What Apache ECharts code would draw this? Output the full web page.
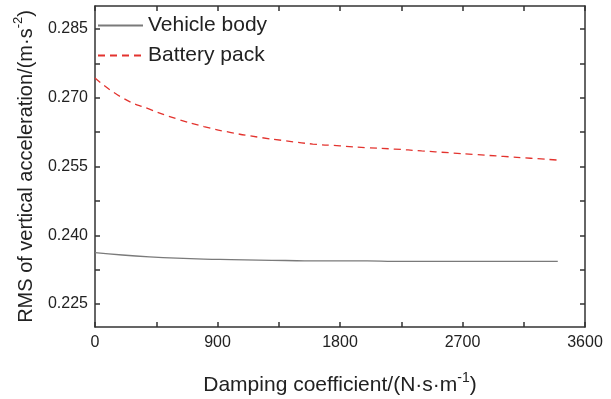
<!DOCTYPE html>
<html>
<head>
<meta charset="utf-8">
<script src="https://cdn.jsdelivr.net/npm/echarts@6/dist/echarts.min.js"></script>
<style>
  html, body { margin: 0; padding: 0; background: #fff; }
  #main { width: 611px; height: 399px; }
</style>
</head>
<body>
<div id="main"></div>
<script>
// 阻尼系数 (x)
var damping = [0, 200, 400, 600, 800, 1000, 1200, 1400, 1600, 1800, 2000, 2200, 2400, 2600, 2800, 3000, 3200, 3400];
// 车身 RMS
var vehicleBody = [0.2362, 0.2357, 0.2353, 0.2350, 0.2348, 0.2347, 0.2346, 0.2345, 0.2344, 0.2344, 0.2344, 0.2343, 0.2343, 0.2343, 0.2343, 0.2343, 0.2343, 0.2343];
// 电池包 RMS
var batteryPack = [0.2743, 0.2700, 0.2675, 0.2654, 0.2637, 0.2624, 0.2614, 0.2606, 0.2599, 0.2595, 0.2591, 0.2588, 0.2584, 0.2580, 0.2576, 0.2572, 0.2568, 0.2564];
// 刻度
var xLabels = [0, 900, 1800, 2700, 3600];
var xTicks = [0, 450, 900, 1350, 1800, 2250, 2700, 3150, 3600];
var yLabels = [0.225, 0.240, 0.255, 0.270, 0.285];
var yTicks = [0.225, 0.2325, 0.240, 0.2475, 0.255, 0.2625, 0.270, 0.2775, 0.285];

var font = 'Liberation Sans, Arial, sans-serif';
var axisColor = '#333';

function pairs(xs, ys) {
    return xs.map(function (x, i) { return [x, ys[i]]; });
}

function supRich(size) {
    return {
        n: { fontSize: size, fontFamily: font, color: '#222', verticalAlign: 'bottom', lineHeight: size + 4 },
        s: { fontSize: Math.round(size * 0.65), fontFamily: font, color: '#222', verticalAlign: 'top', lineHeight: size + 4, padding: [0, 0, 12, 0] }
    };
}

var option = {
    animation: false,
    grid: { left: 95, right: 26, top: 6, bottom: 72, outerBoundsMode: 'none', containLabel: false },
    legend: {
        left: 92,
        top: 10,
        orient: 'vertical',
        itemWidth: 45,
        itemHeight: 14,
        itemGap: 9,
        itemStyle: { opacity: 0 },
        textStyle: { fontSize: 21, fontFamily: font, color: '#222' },
        data: ['Vehicle body', 'Battery pack']
    },
    xAxis: [
        {
            type: 'value',
            min: 0,
            max: 3600,
            name: '{n|Damping coefficient/(N·s·m}{s|-1}{n|)}',
            nameLocation: 'middle',
            nameGap: 44,
            nameTextStyle: { rich: supRich(21) },
            splitLine: { show: false },
            axisLine: { onZero: false, lineStyle: { color: axisColor, width: 1.5 } },
            axisTick: { inside: true, length: 5, customValues: xTicks, lineStyle: { color: axisColor, width: 1.5 } },
            axisLabel: {
                customValues: xLabels, fontSize: 16, fontFamily: font, color: '#222', margin: 8,
                formatter: function (v) { return String(v); }
            }
        },
        {
            type: 'value',
            position: 'top',
            min: 0,
            max: 3600,
            splitLine: { show: false },
            axisLine: { onZero: false, lineStyle: { color: axisColor, width: 1.5 } },
            axisTick: { inside: true, length: 5, customValues: xTicks, lineStyle: { color: axisColor, width: 1.5 } },
            axisLabel: { show: false }
        }
    ],
    yAxis: [
        {
            type: 'value',
            min: 0.220,
            max: 0.290,
            name: '{n|RMS of vertical acceleration/(m·s}{s|-2}{n|)}',
            nameLocation: 'middle',
            nameGap: 53,
            nameTextStyle: { rich: supRich(20) },
            splitLine: { show: false },
            axisLine: { onZero: false, lineStyle: { color: axisColor, width: 1.5 } },
            axisTick: { inside: true, length: 5, customValues: yTicks, lineStyle: { color: axisColor, width: 1.5 } },
            axisLabel: {
                customValues: yLabels, fontSize: 16, fontFamily: font, color: '#222', margin: 7,
                formatter: function (v) { return v.toFixed(3); }
            }
        },
        {
            type: 'value',
            position: 'right',
            min: 0.220,
            max: 0.290,
            splitLine: { show: false },
            axisLine: { onZero: false, lineStyle: { color: axisColor, width: 1.5 } },
            axisTick: { inside: true, length: 5, customValues: yTicks, lineStyle: { color: axisColor, width: 1.5 } },
            axisLabel: { show: false }
        }
    ],
    series: [
        {
            name: 'Vehicle body',
            type: 'line',
            symbol: 'none',
            smooth: true,
            data: pairs(damping, vehicleBody),
            color: '#7a7a7a',
            lineStyle: { color: '#7a7a7a', width: 1.3 }
        },
        {
            name: 'Battery pack',
            type: 'line',
            symbol: 'none',
            smooth: true,
            data: pairs(damping, batteryPack),
            color: '#e3332e',
            lineStyle: { color: '#e3332e', width: 1.3, type: [7, 5] }
        }
    ]
};

var chart = echarts.init(document.getElementById('main'));
chart.setOption(option);
</script>
</body>
</html>
